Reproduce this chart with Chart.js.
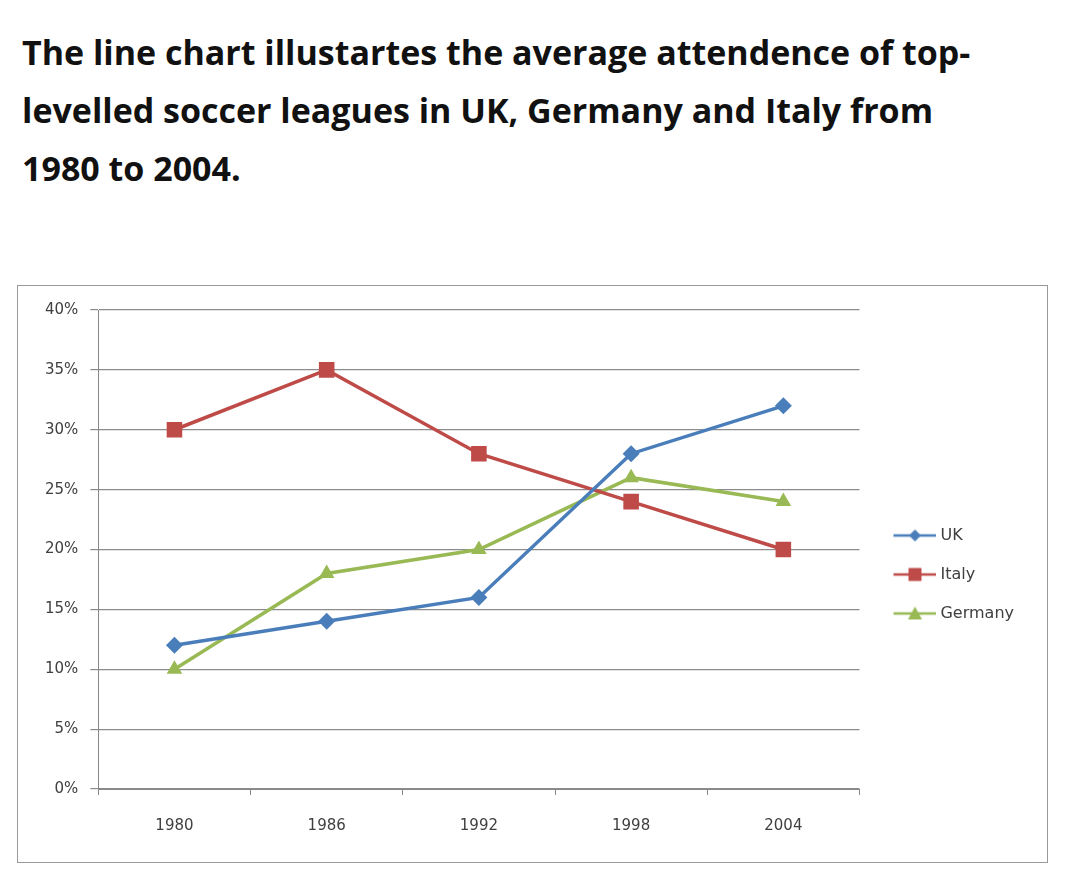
<!DOCTYPE html>
<html>
<head>
<meta charset="utf-8">
<script src="https://cdn.jsdelivr.net/npm/chart.js@4.4.1/dist/chart.umd.min.js"></script>
<style>
  body { margin: 0; background: #fff; width: 1080px; height: 883px; position: relative; overflow: hidden; }
  #title {
    position: absolute; left: 22px; top: 23px;
    font-family: "Open Sans", sans-serif; font-weight: 700; font-size: 34px;
    line-height: 58px; color: #111; white-space: nowrap;
  }
  #box {
    position: absolute; left: 17px; top: 285px; width: 1029px; height: 576px;
    border: 1px solid #999;
  }
</style>
</head>
<body>
<div id="title">The line chart illustartes the average attendence of top-<br>levelled soccer leagues in UK, Germany and Italy from<br>1980 to 2004.</div>
<div id="box"><canvas id="chart" width="1029" height="576"></canvas></div>
<script>
'use strict';

const years = ['1980', '1986', '1992', '1998', '2004'];
const ukValues = [12, 14, 16, 28, 32];
const italyValues = [30, 35, 28, 24, 20];
const germanyValues = [10, 18, 20, 26, 24];
const seriesNames = ['UK', 'Italy', 'Germany'];
const seriesColors = ['#4A7EBB', '#BE4B48', '#98B954'];

// legend picture: a short line with the marker in the middle
function legendIcon(color, style) {
  let c = document.createElement('canvas');
  c.width = 58; c.height = 16;
  let ctx = c.getContext('2d');
  let cx = 36.5;
  ctx.strokeStyle = color; ctx.fillStyle = color; ctx.lineWidth = 2.5;
  ctx.beginPath(); ctx.moveTo(15, 8); ctx.lineTo(58, 8); ctx.stroke();
  ctx.beginPath();
  if (style === 'rectRot') {
    ctx.moveTo(cx, 2); ctx.lineTo(cx + 6, 8); ctx.lineTo(cx, 14); ctx.lineTo(cx - 6, 8);
  } else if (style === 'rect') {
    ctx.rect(cx - 6.5, 1.5, 13, 13);
  } else {
    ctx.moveTo(cx, 1); ctx.lineTo(cx + 7, 14); ctx.lineTo(cx - 7, 14);
  }
  ctx.closePath(); ctx.fill();
  return c;
}

const styles = ['rectRot', 'rect', 'triangle'];
const radii = [8.5, 11, 9];
const allValues = [ukValues, italyValues, germanyValues];

// the legend sits a bit above the middle of the box
const legendLift = {
  id: 'legendLift',
  afterLayout: function (chart) {
    chart.legend.top -= 9;
    chart.legend.bottom -= 9;
  },
};

window.onload = function () {
  let context = document.getElementById('chart').getContext('2d');

  new Chart(context, {
    type: 'line',
    data: {
      labels: years,
      datasets: allValues.map(function (vals, i) {
        return {
          label: seriesNames[i],
          data: vals,
          borderColor: seriesColors[i],
          backgroundColor: seriesColors[i],
          borderWidth: 3.5,
          pointStyle: styles[i],
          pointRadius: radii[i],
          pointBorderWidth: 0,
          tension: 0,
        };
      }),
    },
    options: {
      responsive: false,
      animation: false,
      layout: { padding: { left: 15, top: 24, right: 23, bottom: 5 } },
      scales: {
        x: {
          offset: true,
          grid: { drawOnChartArea: false, drawTicks: true, tickLength: 6, color: '#888', offset: true },
          border: { color: '#888' },
          ticks: { color: '#404040', font: { family: 'DejaVu Sans', size: 15 }, padding: 22 },
        },
        y: {
          min: 0, max: 40,
          ticks: {
            stepSize: 5,
            color: '#404040',
            font: { family: 'DejaVu Sans', size: 15 },
            padding: 12,
            callback: function (v) { return v + '%'; },
          },
          grid: { color: '#8c8c8c', tickLength: 8, lineWidth: 1.2 },
          border: { color: '#888' },
        },
      },
      plugins: {
        legend: {
          position: 'right',
          labels: {
            usePointStyle: true,
            pointStyleWidth: 50,
            padding: 23,
            color: '#404040',
            font: { family: 'DejaVu Sans', size: 16 },
            generateLabels: function (chart) {
              return seriesNames.map(function (name, i) {
                return {
                  text: name,
                  pointStyle: legendIcon(seriesColors[i], styles[i]),
                  fillStyle: seriesColors[i],
                  strokeStyle: seriesColors[i],
                  lineWidth: 0,
                  datasetIndex: i,
                  fontColor: '#404040',
                };
              });
            },
          },
        },
        tooltip: { enabled: false },
      },
    },
    plugins: [legendLift],
  });
};
</script>
</body>
</html>
